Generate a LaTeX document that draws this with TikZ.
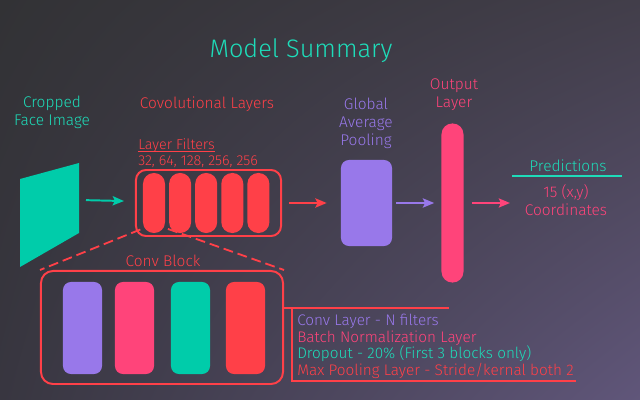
\documentclass[tikz,border=0pt]{standalone}
\usepackage{fontspec}
\setmainfont{Fira Sans}[UprightFont=* Light]
\usetikzlibrary{arrows.meta,shadings}
\definecolor{bgtl}{RGB}{50,50,53}
\definecolor{bgtr}{RGB}{66,62,74}
\definecolor{bgbl}{RGB}{56,54,64}
\definecolor{bgbr}{RGB}{96,86,122}
\definecolor{aqua}{RGB}{0,204,170}
\definecolor{titleaqua}{RGB}{30,220,185}
\definecolor{convred}{RGB}{255,64,72}
\definecolor{rose}{RGB}{255,68,122}
\definecolor{lilac}{RGB}{152,120,234}
\tikzset{
  lbl/.style={font=\fontsize{11}{12.8}\selectfont, align=center, inner sep=0pt},
  pill/.style={fill=#1, rounded corners=0.27cm, minimum width=0.55cm, minimum height=1.5cm, inner sep=0pt},
  blk/.style={fill=#1, rounded corners=0.2cm, minimum width=0.975cm, minimum height=2.3cm, inner sep=0pt},
  arr/.style={#1, line width=1.4pt, -{Stealth[length=8pt,width=6.5pt,inset=1.5pt]}},
  leg/.style={font=\fontsize{10.9}{12}\selectfont, anchor=base west, text=#1, inner sep=0pt},
}
\begin{document}
\begin{tikzpicture}[x=0.025cm,y=-0.025cm]
\shade[upper left=bgtl, upper right=bgtr, lower left=bgbl, lower right=bgbr] (0,0) rectangle (640,400);
\node[text=titleaqua, font=\fontsize{18}{21}\selectfont, anchor=base, inner sep=0pt] (title) at (301,58) {Model Summary};

\node[draw=convred, line width=1.4pt, rounded corners=0.3cm, minimum width=6.05cm, minimum height=2.825cm] (block) at (162,327.5) {};
\node[blk=lilac] (b1) at (82.5,328) {};
\node[blk=rose] (b2) at (134.5,328) {};
\node[blk=aqua] (b3) at (190.5,328) {};
\node[blk=convred] (b4) at (245.5,328) {};
\node[lbl, text=convred, anchor=base] (blocklbl) at (163,267) {Conv Block};
\coordinate (zm) at (154,224);
\draw[convred, line width=1.3pt, dash pattern=on 7pt off 3.5pt] (zm) -- (block.north west);
\draw[convred, line width=1.3pt, dash pattern=on 7pt off 3.5pt] (zm) -- (block.north east);

\node[draw=convred, line width=1.4pt, rounded corners=0.25cm, minimum width=3.625cm, minimum height=1.65cm] (convbox) at (208.5,203) {};
\foreach \i in {0,...,4}
  \node[pill=convred] (f\i) at (154+26.1*\i,203) {};

\fill[aqua] (20,179) -- (79,163) -- (79,233) -- (20,267) -- cycle;
\coordinate (face) at (79,200);
\node[fill=lilac, rounded corners=0.2cm, minimum width=1.275cm, minimum height=2.15cm, inner sep=0pt] (gap) at (366.5,203) {};
\node[pill=rose, minimum height=3.975cm] (out) at (452.5,203) {};
\coordinate (pred) at (510,203);

\draw[arr=aqua, shorten <=0.175cm, shorten >=0.275cm] (face) -- (convbox);
\draw[arr=convred, shorten <=0.175cm, shorten >=0.35cm] (convbox) -- (gap);
\draw[arr=lilac, shorten <=0.1cm, shorten >=0.175cm] (gap) -- (out);
\draw[arr=rose, shorten <=0.2cm] (out) -- (pred);

\node[lbl, text=titleaqua] (facelbl) at (52,112) {Cropped\\Face Image};
\node[lbl, text=convred, anchor=base] (convlbl) at (207,109) {Covolutional Layers};
\node[lbl, text=convred, anchor=base west, font=\fontsize{10.2}{12}\selectfont] (filt) at (138,150) {Layer Filters};
\draw[convred, line width=0.7pt] ([yshift=-1.2pt]filt.base west) -- ([yshift=-1.2pt]filt.base east);
\node[lbl, text=convred, anchor=base west, font=\fontsize{10.2}{12}\selectfont] (filtn) at (138,166) {32, 64, 128, 256, 256};
\node[lbl, text=lilac] (gaplbl) at (366,123) {Global\\Average\\Pooling};
\node[lbl, text=rose] (outlbl) at (454,95) {Output\\Layer};
\node[lbl, text=titleaqua, anchor=base] (predlbl) at (568,172) {Predictions};
\draw[titleaqua, line width=1pt] (512,176) -- (622,176);
\node[lbl, text=rose] (coordlbl) at (566,200) {15 (x,y)\\Coordinates};

\draw[convred, line width=1.1pt] (block.east |- 0,308) -- (449,308);
\draw[convred, line width=1.1pt] (292,308) -- (292,381) -- (576,381);
\node[leg=lilac] (l1) at (297,326) {Conv Layer - N filters};
\node[leg=rose] (l2) at (297,343) {Batch Normalization Layer};
\node[leg=titleaqua] (l3) at (297,359) {Dropout - 20\% (First 3 blocks only)};
\node[leg=convred] (l4) at (297,376) {Max Pooling Layer - Stride/kernal both 2};
\end{tikzpicture}
\end{document}
